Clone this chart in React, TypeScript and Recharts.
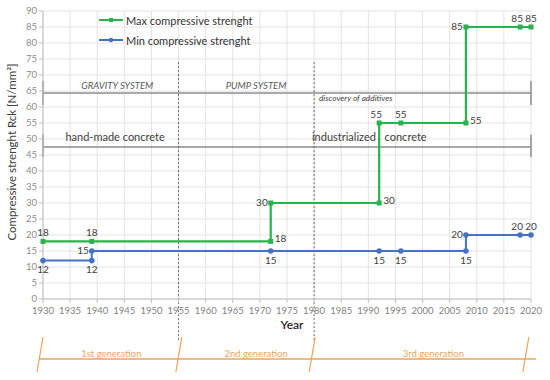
import React from 'react'
import {
  LineChart,
  Line,
  XAxis,
  YAxis,
  CartesianGrid,
  LabelList,
  ReferenceLine,
  ReferenceDot,
  Label,
} from 'recharts'

// step points for both series (corners repeated on purpose)
const maxYears = [1930, 1939, 1972, 1972, 1992, 1992, 1996, 2008, 2008, 2018, 2020]
const maxValues = [18, 18, 18, 30, 30, 55, 55, 55, 85, 85, 85]
const maxLabelSide = ['top', 'top', 'right', 'left', 'right', 'topL', 'top', 'right', 'left', 'topL', 'top']

const minYears = [1930, 1939, 1939, 1972, 1992, 1996, 2008, 2008, 2018, 2020]
const minValues = [12, 12, 15, 15, 15, 15, 15, 20, 20, 20]
const minLabelSide = ['bottom', 'bottom', 'left', 'bottom', 'bottom', 'bottom', 'bottom', 'left', 'topL', 'top']

const xTicks = [1930, 1935, 1940, 1945, 1950, 1955, 1960, 1965, 1970, 1975, 1980, 1985, 1990, 1995, 2000, 2005, 2010, 2015, 2020]
const yTicks = [0, 5, 10, 15, 20, 25, 30, 35, 40, 45, 50, 55, 60, 65, 70, 75, 80, 85, 90]

// era boundaries and band texts
const eraBreaks = [1955, 1980]
const systemLabels = [
  { text: 'GRAVITY SYSTEM', year: 1943.7 },
  { text: 'PUMP SYSTEM', year: 1969.3 },
]
const concreteLabels = [
  { text: 'hand-made concrete', year: 1943.3, anchor: 'middle' },
  { text: 'industrialized', year: 1991.4, anchor: 'end' },
  { text: 'concrete', year: 1993, anchor: 'start' },
]
const generationLabels = [
  { text: '1st generation', year: 1942.6 },
  { text: '2nd generation', year: 1969.3 },
  { text: '3rd generation', year: 2002 },
]
const generationTicks = [1930, 1955.6, 1980.2, 2019.6]

const seriesNames = ['Max compressive strenght', 'Min compressive strenght']

const GREEN = '#2bb24c'
const BLUE = '#4472c4'
const ORANGE = '#eaa55c'
const FONT = 'Lato, "Open Sans", sans-serif'

const maxData = maxYears.map((year, i) => ({ year, value: maxValues[i] }))
const minData = minYears.map((year, i) => ({ year, value: minValues[i] }))

function pointLabel(sides: string[]) {
  return (props: any) => {
    const x = props.x ?? props.viewBox?.x
    const y = props.y ?? props.viewBox?.y
    const side = sides[props.index] ?? 'top'
    let dx = 0
    let dy = 0
    let anchor: 'start' | 'middle' | 'end' = 'middle'
    if (side === 'top') dy = -8
    if (side === 'topL') { dy = -8; dx = -3 }
    if (side === 'bottom') dy = 10
    if (side === 'left') { dx = -3; anchor = 'end'; dy = 0 }
    if (side === 'right') { dx = 4; anchor = 'start'; dy = -2 }
    return (
      <text
        x={x + dx}
        y={y + dy}
        textAnchor={anchor}
        dominantBaseline="middle"
        fontSize={10}
        fill="#404040"
        fontFamily={FONT}
      >
        {props.value}
      </text>
    )
  }
}

const squareDot = (p: any) => (
  <rect key={`s${p.index}`} x={p.cx - 2.5} y={p.cy - 2.5} width={5} height={5} fill={GREEN} />
)
const roundDot = (p: any) => <circle key={`c${p.index}`} cx={p.cx} cy={p.cy} r={2.8} fill={BLUE} />

function textAt(text: string, opts: { italic?: boolean; size: number; color: string; anchor?: string }) {
  return (p: any) => (
    <text
      x={p.cx}
      y={p.cy}
      textAnchor={opts.anchor ?? 'middle'}
      dominantBaseline="middle"
      fontSize={opts.size}
      fontStyle={opts.italic ? 'italic' : 'normal'}
      fill={opts.color}
      fontFamily={FONT}
    >
      {text}
    </text>
  )
}

function LegendBox() {
  const items = [
    { name: seriesNames[0], color: GREEN, square: true },
    { name: seriesNames[1], color: BLUE, square: false },
  ]
  return (
    <div style={{ position: 'absolute', top: 10, left: 99, fontFamily: FONT, fontSize: 11, color: '#333' }}>
      {items.map((e) => (
        <div key={e.name} style={{ display: 'flex', alignItems: 'center', height: 20 }}>
          <svg width={27} height={10}>
            <line x1={0} y1={5} x2={24} y2={5} stroke={e.color} strokeWidth={2} />
            {e.square ? (
              <rect x={10} y={3} width={4} height={4} fill={e.color} />
            ) : (
              <circle cx={12} cy={5} r={2.3} fill={e.color} />
            )}
          </svg>
          <span>{e.name}</span>
        </div>
      ))}
    </div>
  )
}

export default function App() {
  return (
    <div style={{ position: 'absolute', left: 0, top: 0, width: 550, height: 380, background: '#fff' }}>
      <LineChart width={550} height={380} margin={{ top: 11, right: 19, left: 8, bottom: 51 }}>
        <CartesianGrid stroke="#e3e3e3" vertical horizontal />
        <XAxis
          type="number"
          dataKey="year"
          domain={[1930, 2020]}
          ticks={xTicks}
          interval={0}
          height={30}
          tick={{ fontSize: 9.5, fill: '#7f7f7f', fontFamily: FONT }}
          axisLine={{ stroke: '#bfbfbf' }}
          tickLine={{ stroke: '#bfbfbf' }}
          tickSize={4}
          tickMargin={4}
        >
          <Label
            content={(p: any) => (
              <text
                x={p.viewBox.x + p.viewBox.width / 2 + 5}
                y={326}
                textAnchor="middle"
                dominantBaseline="middle"
                fontSize={12}
                fontWeight={600}
                fill="#262626"
                fontFamily={FONT}
              >
                Year
              </text>
            )}
          />
        </XAxis>
        <YAxis
          type="number"
          domain={[0, 90]}
          ticks={yTicks}
          interval={0}
          width={35}
          tick={{ fontSize: 9.5, fill: '#8c8c8c', fontFamily: FONT }}
          axisLine={{ stroke: '#bfbfbf' }}
          tickLine={{ stroke: '#bfbfbf' }}
          tickSize={4}
        >
          <Label
            content={(p: any) => (
              <text
                x={13}
                y={p.viewBox.y + p.viewBox.height / 2 - 3}
                transform={`rotate(-90 13 ${p.viewBox.y + p.viewBox.height / 2 - 3})`}
                textAnchor="middle"
                dominantBaseline="middle"
                fontSize={11.5}
                fill="#404040"
                fontFamily={FONT}
              >
                Compressive strenght Rck [N/mm²]
              </text>
            )}
          />
        </YAxis>

        {/* system band */}
        <ReferenceLine segment={[{ x: 1930, y: 64.4 }, { x: 2020, y: 64.4 }]} stroke="#8c8c8c" strokeWidth={1.5} ifOverflow="visible" />
        <ReferenceLine segment={[{ x: 1930, y: 68.1 }, { x: 1930, y: 60.6 }]} stroke="#8c8c8c" strokeWidth={1.5} ifOverflow="visible" />
        <ReferenceLine segment={[{ x: 2020, y: 68.1 }, { x: 2020, y: 60.6 }]} stroke="#8c8c8c" strokeWidth={1.5} ifOverflow="visible" />
        {systemLabels.map((s) => (
          <ReferenceDot key={s.text} x={s.year} y={66.3} ifOverflow="visible" shape={textAt(s.text, { italic: true, size: 9.5, color: '#595959' })} />
        ))}
        <ReferenceDot x={1980.9} y={62.5} ifOverflow="visible" shape={textAt('discovery of additives', { italic: true, size: 8.3, color: '#404040', anchor: 'start' })} />

        {/* concrete band */}
        <ReferenceLine segment={[{ x: 1930, y: 47.5 }, { x: 2020, y: 47.5 }]} stroke="#8c8c8c" strokeWidth={1.5} ifOverflow="visible" />
        <ReferenceLine segment={[{ x: 1930, y: 51.3 }, { x: 1930, y: 44.4 }]} stroke="#8c8c8c" strokeWidth={1.5} ifOverflow="visible" />
        <ReferenceLine segment={[{ x: 2020, y: 51.3 }, { x: 2020, y: 44.4 }]} stroke="#8c8c8c" strokeWidth={1.5} ifOverflow="visible" />
        {concreteLabels.map((s) => (
          <ReferenceDot key={s.text} x={s.year} y={50.3} ifOverflow="visible" shape={textAt(s.text, { size: 11, color: '#404040', anchor: s.anchor })} />
        ))}

        {/* era breaks, running down into the generation band */}
        {eraBreaks.map((yr) => (
          <ReferenceLine
            key={yr}
            segment={[{ x: yr, y: 74 }, { x: yr, y: -13 }]}
            stroke="#666"
            strokeWidth={1}
            strokeDasharray="2 2"
            ifOverflow="visible"
          />
        ))}

        {/* generation band under the axis */}
        <ReferenceLine segment={[{ x: 1929.3, y: -18.75 }, { x: 2020.9, y: -18.75 }]} stroke={ORANGE} strokeWidth={1.5} ifOverflow="visible" />
        {generationTicks.map((yr) => (
          <ReferenceLine
            key={yr}
            segment={[{ x: yr, y: -11.9 }, { x: yr - 1.1, y: -22.8 }]}
            stroke={ORANGE}
            strokeWidth={1.2}
            ifOverflow="visible"
          />
        ))}
        {generationLabels.map((g) => (
          <ReferenceDot key={g.text} x={g.year} y={-17.3} ifOverflow="visible" shape={textAt(g.text, { size: 9.5, color: ORANGE })} />
        ))}

        <Line
          data={minData}
          dataKey="value"
          name={seriesNames[1]}
          type="linear"
          stroke={BLUE}
          strokeWidth={2}
          dot={roundDot}
          activeDot={false}
          isAnimationActive={false}
        >
          <LabelList dataKey="value" content={pointLabel(minLabelSide)} />
        </Line>
        <Line
          data={maxData}
          dataKey="value"
          name={seriesNames[0]}
          type="linear"
          stroke={GREEN}
          strokeWidth={2.2}
          dot={squareDot}
          activeDot={false}
          isAnimationActive={false}
        >
          <LabelList dataKey="value" content={pointLabel(maxLabelSide)} />
        </Line>
      </LineChart>
      <LegendBox />
    </div>
  )
}
